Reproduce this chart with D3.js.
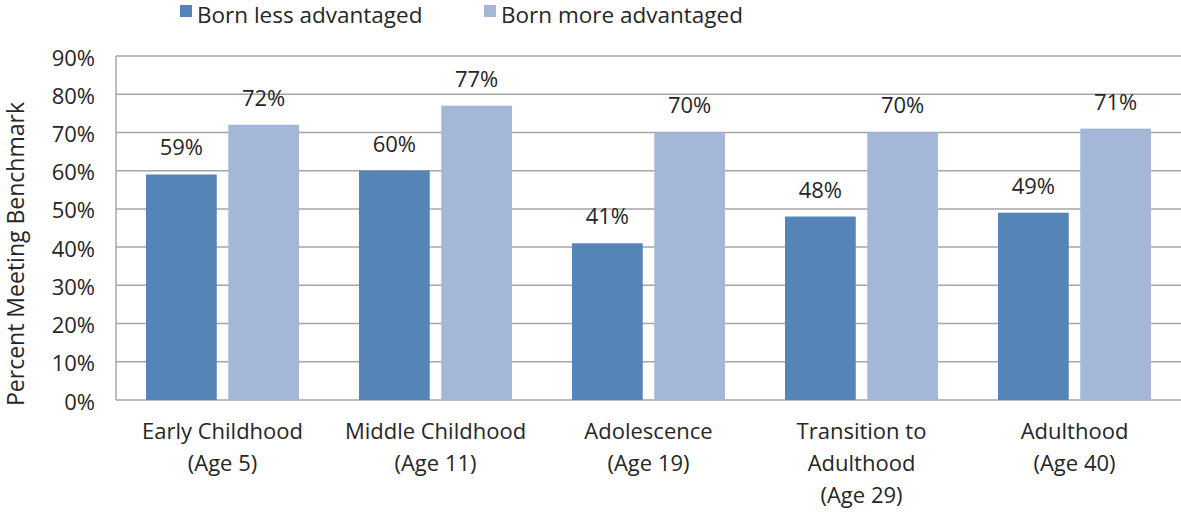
<!DOCTYPE html>
<html>
<head>
<meta charset="utf-8">
<script src="https://cdn.jsdelivr.net/npm/d3@7"></script>
<style>
  body { margin: 0; background: #fff; }
  text { font-family: "Open Sans", sans-serif; fill: #262626; }
</style>
</head>
<body>
<div id="chart"></div>
<script>
const categories = [
  ["Early Childhood", "(Age 5)"],
  ["Middle Childhood", "(Age 11)"],
  ["Adolescence", "(Age 19)"],
  ["Transition to", "Adulthood", "(Age 29)"],
  ["Adulthood", "(Age 40)"]
];
const seriesNames = ["Born less advantaged", "Born more advantaged"];
const lessAdvantaged = [59, 60, 41, 48, 49];
const moreAdvantaged = [72, 77, 70, 70, 71];
const yTicks = [0, 10, 20, 30, 40, 50, 60, 70, 80, 90];

const width = 1181;
const height = 512;
const margin = { top: 56, right: 0, bottom: 112, left: 116 };
const colors = ["#5584b6", "#a4b7d8"];

const svg = d3.select("#chart")
  .append("svg")
  .attr("width", width)
  .attr("height", height);

const x = d3.scaleBand()
  .domain(d3.range(categories.length))
  .range([margin.left, width - margin.right])
  .paddingInner(0)
  .paddingOuter(0);

const x1 = d3.scaleBand()
  .domain([0, 1])
  .range([30, x.bandwidth() - 30])
  .paddingInner(0.14);

const y = d3.scaleLinear()
  .domain([0, 90])
  .range([height - margin.bottom, margin.top]);

// gridlines
svg.append("g")
  .selectAll("line")
  .data(yTicks)
  .enter()
  .append("line")
  .attr("x1", margin.left)
  .attr("x2", width - margin.right)
  .attr("y1", d => y(d))
  .attr("y2", d => y(d))
  .attr("stroke", "#a6a6a6")
  .attr("stroke-width", 1.5);

// y tick labels
svg.append("g")
  .selectAll("text")
  .data(yTicks)
  .enter()
  .append("text")
  .attr("x", 95)
  .attr("y", d => y(d) + 9.5)
  .attr("text-anchor", "end")
  .attr("font-size", "22px")
  .text(d => d + "%");

// left axis line
svg.append("line")
  .attr("x1", margin.left)
  .attr("x2", margin.left)
  .attr("y1", y(90))
  .attr("y2", y(0))
  .attr("stroke", "#a6a6a6")
  .attr("stroke-width", 1.5);

const series = [lessAdvantaged, moreAdvantaged];

const groups = svg.selectAll(".group")
  .data(categories)
  .enter()
  .append("g")
  .attr("class", "group")
  .attr("transform", (d, i) => `translate(${x(i)},0)`);

groups.each(function(cat, i) {
  const g = d3.select(this);
  series.forEach((vals, s) => {
    g.append("rect")
      .attr("x", x1(s))
      .attr("y", y(vals[i]))
      .attr("width", x1.bandwidth())
      .attr("height", y(0) - y(vals[i]))
      .attr("fill", colors[s]);

    g.append("text")
      .attr("x", x1(s) + x1.bandwidth() / 2)
      .attr("y", y(vals[i]) - 19)
      .attr("text-anchor", "middle")
      .attr("font-size", "22px")
      .text(vals[i] + "%");
  });

  const label = g.append("text")
    .attr("text-anchor", "middle")
    .attr("font-size", "22px");
  cat.forEach((line, k) => {
    label.append("tspan")
      .attr("x", x.bandwidth() / 2)
      .attr("y", 439 + k * 32)
      .text(line);
  });
});

// y axis title
svg.append("text")
  .attr("transform", "translate(24,254) rotate(-90)")
  .attr("text-anchor", "middle")
  .attr("font-size", "23px")
  .text("Percent Meeting Benchmark");

// legend
const legendX = [180, 484];
const legend = svg.selectAll(".legend")
  .data(seriesNames)
  .enter()
  .append("g")
  .attr("class", "legend")
  .attr("transform", (d, i) => `translate(${legendX[i]},0)`);

legend.append("rect")
  .attr("x", 0)
  .attr("y", 5)
  .attr("width", 12)
  .attr("height", 12)
  .attr("fill", (d, i) => colors[i]);

legend.append("text")
  .attr("x", 17)
  .attr("y", 23)
  .attr("font-size", "22.5px")
  .text(d => d);
</script>
</body>
</html>
